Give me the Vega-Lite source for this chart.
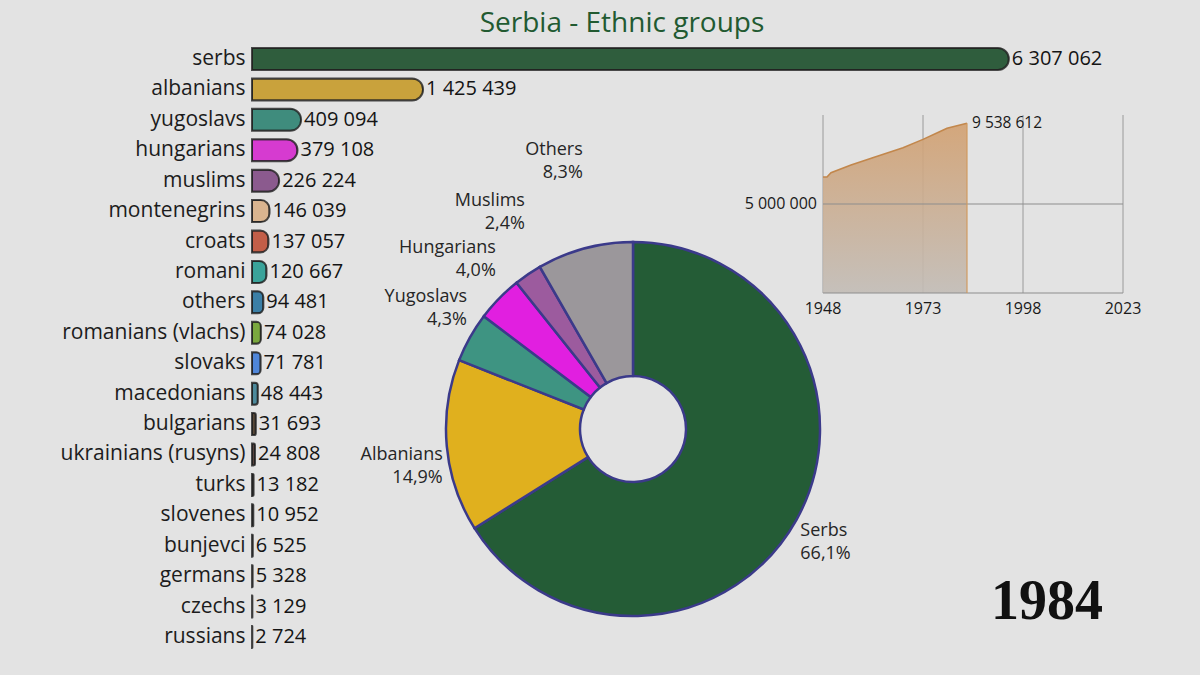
{
  "$schema": "https://vega.github.io/schema/vega-lite/v6.json",
  "width": 1200,
  "height": 675,
  "autosize": {"type": "fit", "contains": "padding"},
  "padding": {"top": 10, "left": 0, "right": 0, "bottom": 0},
  "background": "#e3e3e3",
  "title": {"text": "Serbia - Ethnic groups", "fontSize": 28, "font": "Open Sans", "fontWeight": "normal", "color": "#225a31", "anchor": "middle", "frame": "bounds", "dx": 22, "offset": 4},
  "config": {"view": {"stroke": null}, "font": "Open Sans", "locale": {"number": {"decimal": ",", "thousands": " ", "grouping": [3], "currency": ["", ""]}}},
  "layer": [
    {
      "data": {"values": [
        {"name": "serbs", "value": 6307062},
        {"name": "albanians", "value": 1425439},
        {"name": "yugoslavs", "value": 409094},
        {"name": "hungarians", "value": 379108},
        {"name": "muslims", "value": 226224},
        {"name": "montenegrins", "value": 146039},
        {"name": "croats", "value": 137057},
        {"name": "romani", "value": 120667},
        {"name": "others", "value": 94481},
        {"name": "romanians (vlachs)", "value": 74028},
        {"name": "slovaks", "value": 71781},
        {"name": "macedonians", "value": 48443},
        {"name": "bulgarians", "value": 31693},
        {"name": "ukrainians (rusyns)", "value": 24808},
        {"name": "turks", "value": 13182},
        {"name": "slovenes", "value": 10952},
        {"name": "bunjevci", "value": 6525},
        {"name": "germans", "value": 5328},
        {"name": "czechs", "value": 3129},
        {"name": "russians", "value": 2724}
      ]},
      "encoding": {
        "y": {"field": "name", "type": "nominal", "sort": null,
          "scale": {"range": [1.8, 610.2], "paddingInner": 0.277, "paddingOuter": 0.1385},
          "axis": {"title": null, "domain": false, "ticks": false, "grid": false, "labelFontSize": 21, "labelFont": "Open Sans", "labelColor": "#1c1c1c", "labelPadding": 7, "minExtent": 252, "maxExtent": 252, "labelLimit": 300}},
        "x": {"field": "value", "type": "quantitative", "scale": {"domain": [0, 7900000], "nice": false}, "axis": null}
      },
      "layer": [
        {"mark": {"type": "bar", "cornerRadiusEnd": 11, "stroke": "#222222", "strokeWidth": 2, "strokeOpacity": 0.8},
         "encoding": {"color": {"field": "name", "type": "nominal", "legend": null, "scale": {
           "domain": ["serbs", "albanians", "yugoslavs", "hungarians", "muslims", "montenegrins", "croats", "romani", "others", "romanians (vlachs)", "slovaks", "macedonians", "bulgarians", "ukrainians (rusyns)", "turks", "slovenes", "bunjevci", "germans", "czechs", "russians"],
           "range": ["#2f5d3d", "#c9a23c", "#3f8c7d", "#d63bd0", "#8b5a8e", "#d9b48f", "#c25e48", "#3aa39a", "#3b7fa6", "#7aa83e", "#4f86d9", "#4d8a9c", "#5a4a3a", "#5a4540", "#4a4a55", "#5a6070", "#5a5a5a", "#555555", "#555555", "#555555"]}}}},
        {"mark": {"type": "text", "align": "left", "baseline": "middle", "dx": 3, "fontSize": 20, "font": "Open Sans", "color": "#141414"},
         "encoding": {"text": {"field": "value", "type": "quantitative", "format": ",d"}}}
      ]
    },
    {
      "data": {"values": [
        {"name": "Serbs", "share": 0.661, "idx": 1},
        {"name": "Albanians", "share": 0.149, "idx": 2},
        {"name": "Yugoslavs", "share": 0.043, "idx": 3},
        {"name": "Hungarians", "share": 0.040, "idx": 4},
        {"name": "Muslims", "share": 0.024, "idx": 5},
        {"name": "Others", "share": 0.083, "idx": 6}
      ]},
      "encoding": {
        "theta": {"field": "share", "type": "quantitative", "stack": true},
        "order": {"field": "idx", "type": "quantitative"}
      },
      "layer": [
        {"mark": {"type": "arc", "x": 381, "y": 387, "outerRadius": 187, "innerRadius": 53, "stroke": "#3b3a8a", "strokeWidth": 2.5},
         "encoding": {"color": {"field": "name", "type": "nominal", "legend": null, "scale": {"domain": ["Serbs", "Albanians", "Yugoslavs", "Hungarians", "Muslims", "Others"], "range": ["#245c36", "#e0b01e", "#3e9482", "#e11fe0", "#9c5b9e", "#9b979b"]}}}},
        {"mark": {"type": "text", "x": 381, "y": 387, "radius": 202, "thetaOffset": 0.089, "align": "left", "baseline": "bottom", "dy": -2.5, "fontSize": 18, "color": "#262626"},
         "encoding": {"detail": {"field": "name", "type": "nominal"}, "text": {"field": "name", "type": "nominal"}, "opacity": {"condition": {"test": "datum.name === 'Serbs'", "value": 1}, "value": 0}}},
        {"mark": {"type": "text", "x": 381, "y": 387, "radius": 202, "thetaOffset": 0.089, "align": "left", "baseline": "top", "dy": 2.5, "fontSize": 18, "color": "#262626"},
         "encoding": {"detail": {"field": "name", "type": "nominal"}, "text": {"field": "share", "type": "quantitative", "format": ".1%"}, "opacity": {"condition": {"test": "datum.name === 'Serbs'", "value": 1}, "value": 0}}},
        {"mark": {"type": "text", "x": 381, "y": 387, "radius": 194, "thetaOffset": -0.106, "align": "right", "baseline": "bottom", "dy": -2.5, "fontSize": 18, "color": "#262626"},
         "encoding": {"detail": {"field": "name", "type": "nominal"}, "text": {"field": "name", "type": "nominal"}, "opacity": {"condition": {"test": "datum.name === 'Albanians'", "value": 1}, "value": 0}}},
        {"mark": {"type": "text", "x": 381, "y": 387, "radius": 194, "thetaOffset": -0.106, "align": "right", "baseline": "top", "dy": 2.5, "fontSize": 18, "color": "#262626"},
         "encoding": {"detail": {"field": "name", "type": "nominal"}, "text": {"field": "share", "type": "quantitative", "format": ".1%"}, "opacity": {"condition": {"test": "datum.name === 'Albanians'", "value": 1}, "value": 0}}},
        {"mark": {"type": "text", "x": 381, "y": 387, "radius": 205, "thetaOffset": 0.115, "align": "right", "baseline": "bottom", "dy": -2.5, "fontSize": 18, "color": "#262626"},
         "encoding": {"detail": {"field": "name", "type": "nominal"}, "text": {"field": "name", "type": "nominal"}, "opacity": {"condition": {"test": "datum.name === 'Yugoslavs'", "value": 1}, "value": 0}}},
        {"mark": {"type": "text", "x": 381, "y": 387, "radius": 205, "thetaOffset": 0.115, "align": "right", "baseline": "top", "dy": 2.5, "fontSize": 18, "color": "#262626"},
         "encoding": {"detail": {"field": "name", "type": "nominal"}, "text": {"field": "share", "type": "quantitative", "format": ".1%"}, "opacity": {"condition": {"test": "datum.name === 'Yugoslavs'", "value": 1}, "value": 0}}},
        {"mark": {"type": "text", "x": 381, "y": 387, "radius": 218, "thetaOffset": 0.117, "align": "right", "baseline": "bottom", "dy": -2.5, "fontSize": 18, "color": "#262626"},
         "encoding": {"detail": {"field": "name", "type": "nominal"}, "text": {"field": "name", "type": "nominal"}, "opacity": {"condition": {"test": "datum.name === 'Hungarians'", "value": 1}, "value": 0}}},
        {"mark": {"type": "text", "x": 381, "y": 387, "radius": 218, "thetaOffset": 0.117, "align": "right", "baseline": "top", "dy": 2.5, "fontSize": 18, "color": "#262626"},
         "encoding": {"detail": {"field": "name", "type": "nominal"}, "text": {"field": "share", "type": "quantitative", "format": ".1%"}, "opacity": {"condition": {"test": "datum.name === 'Hungarians'", "value": 1}, "value": 0}}},
        {"mark": {"type": "text", "x": 381, "y": 387, "radius": 242, "thetaOffset": 0.134, "align": "right", "baseline": "bottom", "dy": -2.5, "fontSize": 18, "color": "#262626"},
         "encoding": {"detail": {"field": "name", "type": "nominal"}, "text": {"field": "name", "type": "nominal"}, "opacity": {"condition": {"test": "datum.name === 'Muslims'", "value": 1}, "value": 0}}},
        {"mark": {"type": "text", "x": 381, "y": 387, "radius": 242, "thetaOffset": 0.134, "align": "right", "baseline": "top", "dy": 2.5, "fontSize": 18, "color": "#262626"},
         "encoding": {"detail": {"field": "name", "type": "nominal"}, "text": {"field": "share", "type": "quantitative", "format": ".1%"}, "opacity": {"condition": {"test": "datum.name === 'Muslims'", "value": 1}, "value": 0}}},
        {"mark": {"type": "text", "x": 381, "y": 387, "radius": 272, "thetaOffset": 0.075, "align": "right", "baseline": "bottom", "dy": -2.5, "fontSize": 18, "color": "#262626"},
         "encoding": {"detail": {"field": "name", "type": "nominal"}, "text": {"field": "name", "type": "nominal"}, "opacity": {"condition": {"test": "datum.name === 'Others'", "value": 1}, "value": 0}}},
        {"mark": {"type": "text", "x": 381, "y": 387, "radius": 272, "thetaOffset": 0.075, "align": "right", "baseline": "top", "dy": 2.5, "fontSize": 18, "color": "#262626"},
         "encoding": {"detail": {"field": "name", "type": "nominal"}, "text": {"field": "share", "type": "quantitative", "format": ".1%"}, "opacity": {"condition": {"test": "datum.name === 'Others'", "value": 1}, "value": 0}}}
      ]
    },
    {
      "layer": [
        {
          "data": {"values": [
            {"year": 1948, "from": 0, "to": 10000000},
            {"year": 1973, "from": 0, "to": 10000000},
            {"year": 1998, "from": 0, "to": 10000000},
            {"year": 2023, "from": 0, "to": 10000000}
          ]},
          "layer": [
            {
              "mark": {"type": "rule", "color": "#9a9a9a", "strokeWidth": 1},
              "encoding": {
                "x": {"field": "year", "type": "quantitative", "scale": {"domain": [1948, 2023], "range": [571, 871], "nice": false, "zero": false}, "axis": null},
                "y": {"field": "from", "type": "quantitative", "scale": {"domain": [0, 10000000], "range": [251, 73], "nice": false, "zero": false}, "axis": null},
                "y2": {"field": "to"}
              }
            },
            {
              "mark": {"type": "text", "align": "center", "baseline": "top", "dy": 8, "fontSize": 16, "color": "#1a1a1a"},
              "encoding": {
                "x": {"field": "year", "type": "quantitative"},
                "y": {"field": "from", "type": "quantitative"},
                "text": {"field": "year", "type": "quantitative", "format": "d"}
              }
            }
          ]
        },
        {
          "data": {"values": [
            {"year": 1948, "pop": 6520000},
            {"year": 1949, "pop": 6520000},
            {"year": 1950, "pop": 6760000},
            {"year": 1955, "pop": 7190000},
            {"year": 1961, "pop": 7640000},
            {"year": 1968, "pop": 8160000},
            {"year": 1973, "pop": 8630000},
            {"year": 1977, "pop": 9040000},
            {"year": 1979, "pop": 9250000},
            {"year": 1984, "pop": 9538612}
          ]},
          "mark": {"type": "area", "opacity": 0.9,
            "color": {"gradient": "linear", "x1": 0, "y1": 0, "x2": 0, "y2": 1, "stops": [{"offset": 0, "color": "#d2a070"}, {"offset": 1, "color": "#c2bcb6"}]},
            "line": {"color": "#c2874c", "strokeWidth": 1.6}},
          "encoding": {
            "x": {"field": "year", "type": "quantitative"},
            "y": {"field": "pop", "type": "quantitative"}
          }
        },
        {
          "data": {"values": [
            {"start": 1948, "end": 2023, "level": 0},
            {"start": 1948, "end": 2023, "level": 5000000}
          ]},
          "layer": [
            {
              "mark": {"type": "rule", "color": "#8e8e8e", "strokeWidth": 1.2},
              "encoding": {
                "x": {"field": "start", "type": "quantitative"},
                "x2": {"field": "end"},
                "y": {"field": "level", "type": "quantitative"}
              }
            },
            {
              "transform": [{"filter": "datum.level > 0"}],
              "mark": {"type": "text", "align": "right", "baseline": "middle", "dx": -6, "fontSize": 16, "color": "#1a1a1a"},
              "encoding": {
                "x": {"field": "start", "type": "quantitative"},
                "y": {"field": "level", "type": "quantitative"},
                "text": {"field": "level", "type": "quantitative", "format": ",d"}
              }
            }
          ]
        },
        {
          "data": {"values": [{"year": 1984, "pop": 9538612, "base": 0}]},
          "layer": [
            {
              "mark": {"type": "rule", "color": "#d09a60", "strokeWidth": 1.2},
              "encoding": {
                "x": {"field": "year", "type": "quantitative"},
                "y": {"field": "pop", "type": "quantitative"},
                "y2": {"field": "base"}
              }
            },
            {
              "mark": {"type": "text", "align": "left", "baseline": "middle", "dx": 5, "fontSize": 15.5, "color": "#1a1a1a"},
              "encoding": {
                "x": {"field": "year", "type": "quantitative"},
                "y": {"field": "pop", "type": "quantitative"},
                "text": {"field": "pop", "type": "quantitative", "format": ",d"}
              }
            }
          ]
        }
      ]
    },
    {
      "data": {"values": [{"year": 1984}]},
      "mark": {"type": "text", "x": 795, "y": 577, "align": "center", "baseline": "alphabetic", "fontSize": 56, "fontWeight": "bold", "font": "Liberation Serif", "color": "#111111"},
      "encoding": {"text": {"field": "year", "type": "quantitative", "format": "d"}}
    }
  ],
  "resolve": {"scale": {"x": "independent", "y": "independent", "color": "independent"}}
}
